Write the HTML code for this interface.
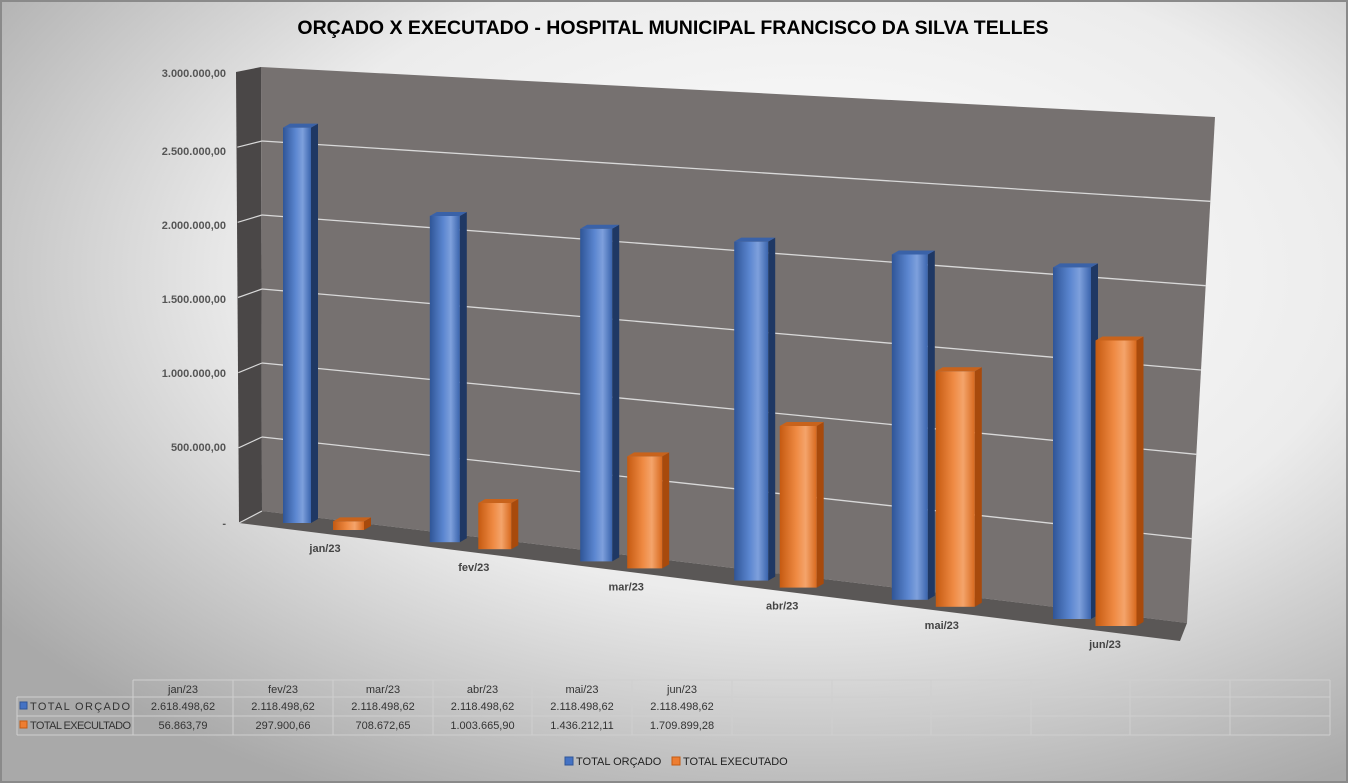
<!DOCTYPE html>
<html><head><meta charset="utf-8"><style>
html,body{margin:0;padding:0;width:1348px;height:783px;overflow:hidden;background:#fff;}
svg{display:block;font-family:"Liberation Sans",sans-serif;}
</style></head><body>
<svg id="chart" width="1348" height="783" viewBox="0 0 1348 783">
<defs>
<radialGradient id="bg" cx="0.6" cy="0.35" r="0.75">
<stop offset="0" stop-color="#ffffff"/><stop offset="0.55" stop-color="#ececec"/><stop offset="1" stop-color="#a9a9a9"/>
</radialGradient>
<linearGradient id="gBlue" x1="0" x2="1" y1="0" y2="0">
<stop offset="0" stop-color="#2f5597"/><stop offset="0.45" stop-color="#5b86d0"/><stop offset="0.7" stop-color="#7ea0dc"/><stop offset="1" stop-color="#3a64ad"/>
</linearGradient>
<linearGradient id="gOrange" x1="0" x2="1" y1="0" y2="0">
<stop offset="0" stop-color="#c55a11"/><stop offset="0.45" stop-color="#ef8a43"/><stop offset="0.7" stop-color="#f4a46b"/><stop offset="1" stop-color="#d8691e"/>
</linearGradient>
</defs>
<rect x="1" y="1" width="1346" height="781" fill="url(#bg)" stroke="#8a8a8a" stroke-width="2"/>
<text x="673" y="34" text-anchor="middle" font-size="19.5" font-weight="bold" fill="#000">ORÇADO X EXECUTADO - HOSPITAL MUNICIPAL FRANCISCO DA SILVA TELLES</text>
<polygon points="236,72 261,67 262,511 239,523" fill="#4a4747"/>
<polygon points="261,67 1215,117 1187,623 262,511" fill="#767170"/>
<polygon points="262,511 1187,623 1180,641 239,523" fill="#5a5756"/>
<g id="grid"></g>
<g id="bars"></g>
<g id="xlabels"></g>
<g id="table"></g>
<g>
<rect x="565" y="757" width="8" height="8" fill="#4472c4" stroke="#2f5597"/>
<text x="576" y="765" font-size="11" fill="#222">TOTAL ORÇADO</text>
<rect x="672" y="757" width="8" height="8" fill="#ed7d31" stroke="#c55a11"/>
<text x="683" y="765" font-size="11" fill="#222">TOTAL EXECUTADO</text>
</g>
</svg>
<script>
const categories = ["jan/23","fev/23","mar/23","abr/23","mai/23","jun/23"];
const orcado = [2618498.62,2118498.62,2118498.62,2118498.62,2118498.62,2118498.62];
const executado = [56863.79,297900.66,708672.65,1003665.90,1436212.11,1709899.28];
const orcadoLabels = ["2.618.498,62","2.118.498,62","2.118.498,62","2.118.498,62","2.118.498,62","2.118.498,62"];
const executadoLabels = ["56.863,79","297.900,66","708.672,65","1.003.665,90","1.436.212,11","1.709.899,28"];
const yTicks = [0,500000,1000000,1500000,2000000,2500000,3000000];
const yTickLabels = ["-","500.000,00","1.000.000,00","1.500.000,00","2.000.000,00","2.500.000,00","3.000.000,00"];

const NS="http://www.w3.org/2000/svg";
function mk(tag, attrs, parent){const e=document.createElementNS(NS,tag);for(const k in attrs)e.setAttribute(k,attrs[k]);parent.appendChild(e);return e;}
const yMax=3000000;
function yLeft(v){return 511-(511-67)*v/yMax;}
function yRight(v){return 623-(623-117)*v/yMax;}
function xRightAt(v){return 1187+(1215-1187)*v/yMax;}
function catX(i){return 283+145*i+1.8*i*i;}
function baseY(i,s){return 523+19.2*i+(s?7:0);}
function scaleY(i,s){return (151+3*i+(s?1:0))/1e6;}
function barW(i,s){return s?(31+2*i):(28+2*i);}

const grid=document.getElementById('grid');
yTicks.forEach((t,k)=>{
  if(t>0&&t<yMax){
    const l=mk('line',{x1:262,y1:yLeft(t),x2:xRightAt(t),y2:yRight(t),stroke:'#d9d9d9','stroke-width':1.3},grid);
    
    
  }
  if(t<yMax){
    const s=mk('line',{x1:237+2*(1-t/yMax),y1:yLeft(t)+12-7*t/yMax,x2:262,y2:yLeft(t),stroke:'#d9d9d9','stroke-width':1.2},grid);
    
    
  }
  const tx=mk('text',{x:226,y:yLeft(t)+(t===yMax?10:(t===0?16:14)),'text-anchor':'end','font-size':11,'font-weight':'bold',fill:'#555'},grid);
  tx.textContent=yTickLabels[k];
  
  
});

const bars=document.getElementById('bars');
function bar(i,s,val){
  const w=barW(i,s), d=7, up=4;
  const x=catX(i)+(s?barW(i,0)+22-3.5*i:0);
  const b=baseY(i,s), top=b-val*scaleY(i,s);
  const g=mk('g',{},bars);
  
  
  const dark=s?'#a84a0c':'#1f3864', topc=s?'#c8631c':'#3a62a8';
  mk('polygon',{points:`${x+w},${top} ${x+w+d},${top-up} ${x+w+d},${b-up} ${x+w},${b}`,fill:dark},g);
  mk('rect',{x:x,y:top,width:w,height:b-top,fill:s?'url(#gOrange)':'url(#gBlue)'},g);
  mk('polygon',{points:`${x},${top} ${x+w},${top} ${x+w+d},${top-up} ${x+d},${top-up}`,fill:topc},g);
}
categories.forEach((c,i)=>{bar(i,0,orcado[i]);bar(i,1,executado[i]);});

const xl=document.getElementById('xlabels');
categories.forEach((c,i)=>{
  const t=mk('text',{x:catX(i)+barW(i,0)+14,y:baseY(i,1)+22,'text-anchor':'middle','font-size':11,'font-weight':'bold',fill:'#444'},xl);
  t.textContent=c;
  
  
});

const tb=document.getElementById('table');
const colX=[133,233,333,433,532,632,732,832,931,1031,1130,1230,1330];
const rowY=[680,697,716,735];
function ln(x1,y1,x2,y2){const l=mk('line',{x1,y1,x2,y2,stroke:'#cfcfcf','stroke-width':1},tb);}
colX.forEach(x=>ln(x,rowY[0],x,rowY[3]));
ln(17,rowY[1],17,rowY[3]);
ln(133,rowY[0],1330,rowY[0]);
ln(17,rowY[1],1330,rowY[1]);ln(17,rowY[2],1330,rowY[2]);ln(17,rowY[3],1330,rowY[3]);
function tt(x,y,s,anchor){const t=mk('text',{x,y,'text-anchor':anchor||'middle','font-size':11,fill:'#333'},tb);t.textContent=s;return t;}
categories.forEach((c,i)=>{
  const cx=(colX[i]+colX[i+1])/2;
  tt(cx,rowY[0]+13,c);
  tt(cx,rowY[1]+13,orcadoLabels[i]);
  tt(cx,rowY[2]+13,executadoLabels[i]);
});
mk('rect',{x:20,y:rowY[1]+5,width:7,height:7,fill:'#4472c4',stroke:'#2f5597'},tb);
mk('rect',{x:20,y:rowY[2]+5,width:7,height:7,fill:'#ed7d31',stroke:'#c55a11'},tb);
tt(30,rowY[1]+13,'TOTAL ORÇADO','start').setAttribute('textLength','100');
tt(30,rowY[2]+13,'TOTAL EXECULTADO','start').setAttribute('textLength','101');
</script>
</body></html>
